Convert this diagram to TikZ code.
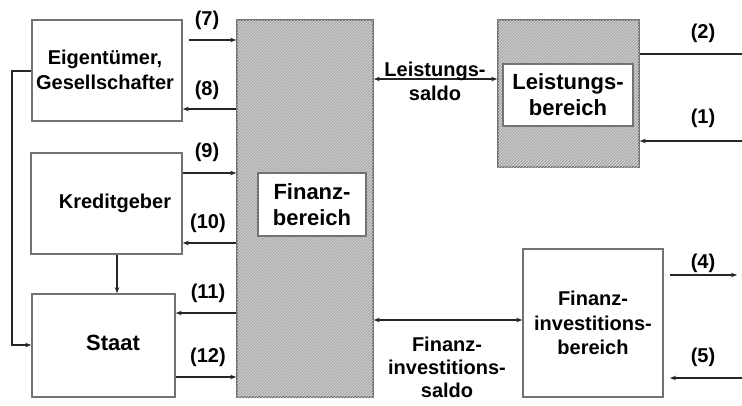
\documentclass[tikz,border=0pt]{standalone}
\usepackage{fontspec}
\setmainfont{Liberation Sans}
\usetikzlibrary{arrows.meta,patterns}
\begin{document}
\begin{tikzpicture}[x=1pt,y=-1pt,
  box/.style={draw=black!55,line width=1.6pt,fill=white,inner sep=0pt},
  hatch/.style={draw=black!55,line width=1.6pt,fill=black!32,
    postaction={pattern=north east lines,pattern color=black!15}},
  inbox/.style={draw=black!55,line width=1.2pt,fill=white,inner sep=0pt},
  arr/.style={draw=black!85,line width=1.2pt,-{Stealth[length=6pt,width=4.5pt]}},
  darr/.style={draw=black!85,line width=1.2pt,{Stealth[length=6pt,width=4.5pt]}-{Stealth[length=6pt,width=4.5pt]}},
  ln/.style={draw=black!85,line width=1.2pt},
  txt/.style={font=\bfseries\fontsize{20}{24.5}\selectfont,align=center,inner sep=0pt},
  stxt/.style={font=\bfseries\fontsize{20}{23}\selectfont,align=center,inner sep=0pt},
  btxt/.style={font=\bfseries\fontsize{22}{26}\selectfont,align=center,inner sep=0pt},
  lab/.style={font=\bfseries\fontsize{20}{24}\selectfont,inner sep=0pt}]
\useasboundingbox (0,0) rectangle (742,405);
\fill[white] (0,0) rectangle (742,405);
% boxes
\node[box,minimum width=150pt,minimum height=101pt] (eig) at (107,70.5) {};
\node[txt] at (105,70) {Eigentümer,\\Gesellschafter};
\node[box,minimum width=151pt,minimum height=101pt] (kred) at (106.5,203.5) {};
\node[txt] at (115,203) {Kreditgeber};
\node[box,minimum width=143pt,minimum height=103pt] (staat) at (103.5,345.5) {};
\node[btxt] at (113,343) {Staat};
\node[hatch,minimum width=136pt,minimum height=377pt] (fin) at (305,208.5) {};
\node[inbox,minimum width=108pt,minimum height=63pt,btxt] (fininner) at (312,204.5) {Finanz-\\bereich};
\node[hatch,minimum width=141pt,minimum height=147pt] (leist) at (568.5,93.5) {};
\node[inbox,minimum width=130pt,minimum height=62pt,btxt] (leistinner) at (568,95) {Leistungs-\\bereich};
\node[box,minimum width=140pt,minimum height=148pt,txt] (fi) at (593,323) {Finanz-\\investitions-\\bereich};
% helper coordinates
\coordinate (y7) at (189,40);
\coordinate (y8) at (0,109);
\coordinate (y9) at (0,173);
\coordinate (y10) at (0,243);
\coordinate (y11) at (0,313);
\coordinate (y12) at (0,377);
\coordinate (yl) at (0,71);
\coordinate (c1) at (12,71);
\coordinate (c2) at (12,345);
\coordinate (ks) at (117,0);
\coordinate (ysaldo) at (0,79);
\coordinate (yfis) at (0,320);
\coordinate (e2) at (742,54);
\coordinate (e1) at (742,141);
\coordinate (s4) at (670,275);
\coordinate (t4) at (737,275);
\coordinate (e5) at (742,378);
\coordinate (t5) at (670,378);
% connectors
\draw[arr] (y7) -- (fin.west |- y7);
\draw[arr] (fin.west |- y8) -- (eig.east |- y8);
\draw[arr] (kred.east |- y9) -- (fin.west |- y9);
\draw[arr] (fin.west |- y10) -- (kred.east |- y10);
\draw[arr] (kred.south -| ks) -- (staat.north -| ks);
\draw[arr] (fin.west |- y11) -- (staat.east |- y11);
\draw[arr] (staat.east |- y12) -- (fin.west |- y12);
\draw[arr] (eig.west |- yl) -- (c1) -- (c2) -- (staat.west |- c2);
\draw[darr] (fin.east |- ysaldo) -- (leist.west |- ysaldo);
\draw[darr] (fin.east |- yfis) -- (fi.west |- yfis);
\draw[ln] (leist.east |- e2) -- (e2);
\draw[arr] (e1) -- (leist.east |- e1);
\draw[arr] (s4) -- (t4);
\draw[arr] (e5) -- (t5);
% labels
\node[lab] at (207,20) {(7)};
\node[lab] at (207,90) {(8)};
\node[lab] at (207,152) {(9)};
\node[lab] at (208,223) {(10)};
\node[lab] at (208,293) {(11)};
\node[lab] at (208,357) {(12)};
\node[lab] at (703,33) {(2)};
\node[lab] at (703,118) {(1)};
\node[lab] at (703,263) {(4)};
\node[lab] at (703,357) {(5)};
\node[txt] at (435,81.5) {Leistungs-\\saldo};
\node[stxt] at (447,367) {Finanz-\\investitions-\\saldo};
\end{tikzpicture}
\end{document}
